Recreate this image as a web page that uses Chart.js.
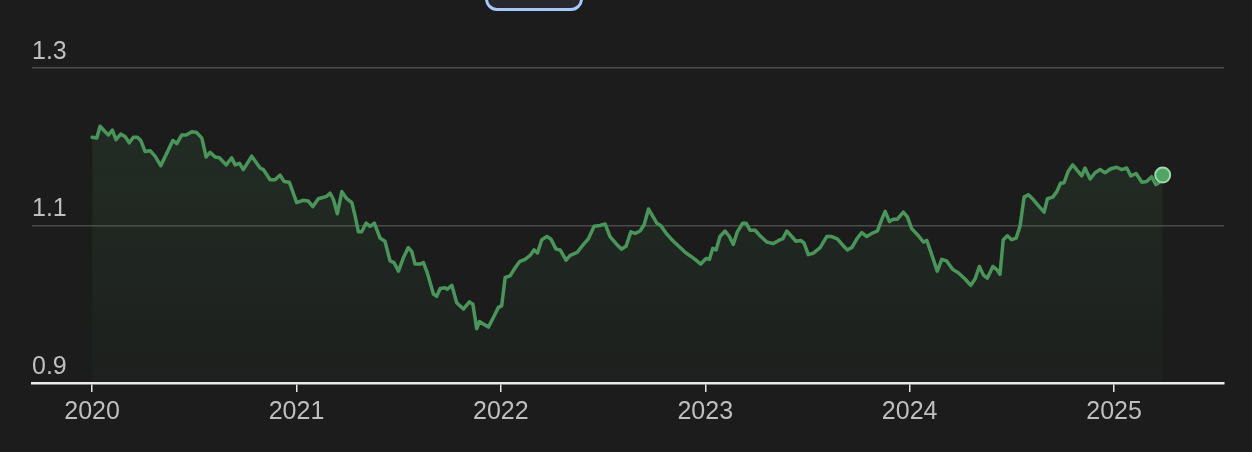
<!DOCTYPE html>
<html>
<head>
<meta charset="utf-8">
<script src="https://cdn.jsdelivr.net/npm/chart.js@4.4.1/dist/chart.umd.min.js"></script>
<style>
  html, body { margin: 0; padding: 0; background: #1c1c1c; overflow: hidden; }
  #wrap { position: relative; width: 1252px; height: 452px; }
  #rangeBtn {
    position: absolute; left: 485px; top: -30px; width: 92px; height: 35px;
    border: 3px solid #a8c7fa; border-radius: 12px; background: #28272e;
  }
</style>
</head>
<body>
<div id="wrap">
  <div id="rangeBtn"></div>
  <canvas id="myChart" width="1252" height="452"></canvas>
</div>
<script>
// values (fractional year, rate)
var years = [
  2020.000, 2020.023, 2020.039, 2020.064, 2020.080, 2020.099, 2020.117, 2020.140, 2020.161, 2020.182,
  2020.202, 2020.222, 2020.238, 2020.259, 2020.284, 2020.308, 2020.336, 2020.362, 2020.395, 2020.414,
  2020.439, 2020.460, 2020.488, 2020.512, 2020.537, 2020.558, 2020.577, 2020.602, 2020.623, 2020.656,
  2020.683, 2020.700, 2020.721, 2020.740, 2020.781, 2020.822, 2020.838, 2020.871, 2020.895, 2020.920,
  2020.939, 2020.965, 2021.001, 2021.031, 2021.058, 2021.080, 2021.107, 2021.148, 2021.164, 2021.181,
  2021.200, 2021.222, 2021.246, 2021.271, 2021.287, 2021.303, 2021.319, 2021.341, 2021.360, 2021.381,
  2021.409, 2021.433, 2021.458, 2021.477, 2021.499, 2021.523, 2021.547, 2021.564, 2021.580, 2021.605,
  2021.621, 2021.640, 2021.670, 2021.686, 2021.703, 2021.727, 2021.738, 2021.760, 2021.784, 2021.817,
  2021.846, 2021.863, 2021.882, 2021.895, 2021.914, 2021.939, 2021.967, 2021.988, 2022.004, 2022.021,
  2022.045, 2022.069, 2022.091, 2022.118, 2022.143, 2022.162, 2022.179, 2022.200, 2022.225, 2022.244,
  2022.270, 2022.290, 2022.319, 2022.339, 2022.374, 2022.404, 2022.428, 2022.456, 2022.485, 2022.510,
  2022.534, 2022.567, 2022.591, 2022.613, 2022.636, 2022.657, 2022.681, 2022.701, 2022.722, 2022.743,
  2022.763, 2022.782, 2022.812, 2022.844, 2022.877, 2022.906, 2022.929, 2022.950, 2022.978, 2023.004,
  2023.020, 2023.037, 2023.053, 2023.072, 2023.097, 2023.118, 2023.137, 2023.157, 2023.183, 2023.200,
  2023.219, 2023.244, 2023.268, 2023.301, 2023.333, 2023.366, 2023.379, 2023.399, 2023.423, 2023.444,
  2023.467, 2023.483, 2023.504, 2023.529, 2023.562, 2023.594, 2023.619, 2023.646, 2023.673, 2023.695,
  2023.717, 2023.744, 2023.766, 2023.790, 2023.815, 2023.842, 2023.864, 2023.880, 2023.901, 2023.920,
  2023.940, 2023.969, 2023.989, 2024.010, 2024.043, 2024.067, 2024.084, 2024.108, 2024.135, 2024.157,
  2024.181, 2024.211, 2024.238, 2024.271, 2024.299, 2024.320, 2024.341, 2024.361, 2024.380, 2024.407,
  2024.426, 2024.442, 2024.458, 2024.478, 2024.499, 2024.521, 2024.540, 2024.560, 2024.581, 2024.605,
  2024.634, 2024.658, 2024.674, 2024.700, 2024.720, 2024.739, 2024.755, 2024.776, 2024.798, 2024.817,
  2024.842, 2024.858, 2024.883, 2024.907, 2024.932, 2024.956, 2024.984, 2025.013, 2025.038, 2025.062,
  2025.082, 2025.108, 2025.136, 2025.160, 2025.184, 2025.205, 2025.222, 2025.238
];
var rates = [
  1.212, 1.211, 1.226, 1.219, 1.215, 1.221, 1.209, 1.216, 1.213, 1.205,
  1.212, 1.212, 1.208, 1.194, 1.195, 1.188, 1.176, 1.190, 1.208, 1.204,
  1.215, 1.215, 1.219, 1.218, 1.211, 1.187, 1.193, 1.187, 1.186, 1.177,
  1.186, 1.177, 1.179, 1.171, 1.188, 1.173, 1.171, 1.158, 1.158, 1.164,
  1.156, 1.155, 1.129, 1.132, 1.131, 1.124, 1.134, 1.137, 1.141, 1.133,
  1.115, 1.143, 1.134, 1.129, 1.112, 1.092, 1.092, 1.103, 1.099, 1.103,
  1.084, 1.080, 1.055, 1.053, 1.042, 1.059, 1.072, 1.067, 1.051, 1.051,
  1.053, 1.040, 1.013, 1.010, 1.020, 1.021, 1.019, 1.024, 1.002, 0.994,
  1.003, 1.000, 0.969, 0.978, 0.975, 0.971, 0.985, 0.996, 0.998, 1.034,
  1.036, 1.046, 1.054, 1.057, 1.062, 1.069, 1.065, 1.082, 1.086, 1.083,
  1.070, 1.069, 1.056, 1.062, 1.066, 1.076, 1.083, 1.099, 1.100, 1.102,
  1.086, 1.076, 1.070, 1.074, 1.092, 1.090, 1.093, 1.101, 1.121, 1.112,
  1.103, 1.100, 1.089, 1.080, 1.072, 1.065, 1.061, 1.057, 1.051, 1.058,
  1.057, 1.071, 1.069, 1.086, 1.093, 1.086, 1.076, 1.092, 1.103, 1.103,
  1.094, 1.094, 1.087, 1.079, 1.077, 1.082, 1.083, 1.093, 1.086, 1.080,
  1.081, 1.078, 1.063, 1.065, 1.072, 1.086, 1.086, 1.083, 1.075, 1.069,
  1.072, 1.084, 1.091, 1.086, 1.090, 1.093, 1.108, 1.118, 1.105, 1.108,
  1.108, 1.117, 1.111, 1.096, 1.087, 1.079, 1.081, 1.063, 1.042, 1.057,
  1.055, 1.044, 1.040, 1.032, 1.024, 1.032, 1.048, 1.037, 1.033, 1.048,
  1.044, 1.038, 1.082, 1.087, 1.082, 1.084, 1.099, 1.136, 1.139, 1.133,
  1.124, 1.117, 1.134, 1.136, 1.143, 1.154, 1.154, 1.169, 1.177, 1.171,
  1.163, 1.173, 1.159, 1.167, 1.171, 1.167, 1.172, 1.174, 1.171, 1.173,
  1.163, 1.166, 1.155, 1.156, 1.162, 1.152, 1.155, 1.164
];
var yearTicks = [2020, 2021, 2022, 2023, 2024, 2025];
var rateTicks = [0.9, 1.1, 1.3];

var lineColor = '#4a965a';
var textColor = '#bfbfbf';
var fontFamily = '"Liberation Sans", Arial, Helvetica, sans-serif';

var points = years.map(function (y, i) {
  return { x: y, y: rates[i] };
});
var lastIndex = points.length - 1;

var ctx = document.getElementById('myChart').getContext('2d');

var myChart = new Chart(ctx, {
  type: 'line',
  data: {
    datasets: [{
      data: points,
      borderColor: lineColor,
      borderWidth: 3.5,
      borderJoinStyle: 'round',
      borderCapStyle: 'round',
      tension: 0,
      fill: 'start',
      backgroundColor: function (context) {
        var area = context.chart.chartArea;
        if (!area) return 'rgba(0,0,0,0)';
        var g = context.chart.ctx.createLinearGradient(0, area.top + 50, 0, area.bottom);
        g.addColorStop(0, 'rgba(80, 160, 95, 0.13)');
        g.addColorStop(1, 'rgba(80, 160, 95, 0.03)');
        return g;
      },
      pointRadius: function (c) { return c.dataIndex === lastIndex ? 7.5 : 0; },
      pointHoverRadius: 0,
      pointBackgroundColor: '#52a465',
      pointBorderColor: '#9fd8ad',
      pointBorderWidth: 2
    }]
  },
  options: {
    responsive: false,
    animation: false,
    events: [],
    layout: {
      padding: { left: 32, right: 28, top: 68, bottom: 20 }
    },
    plugins: {
      legend: { display: false },
      tooltip: { enabled: false }
    },
    scales: {
      x: {
        type: 'linear',
        min: 2019.706,
        max: 2025.538,
        afterBuildTicks: function (scale) {
          scale.ticks = yearTicks.map(function (v) { return { value: v }; });
        },
        border: { display: true, color: '#ececec', width: 2.5 },
        grid: {
          drawOnChartArea: false,
          drawTicks: true,
          tickLength: 9,
          color: '#e6e6e6',
          lineWidth: 1.5
        },
        ticks: {
          color: textColor,
          padding: 5,
          maxRotation: 0,
          font: { family: fontFamily, size: 25 },
          callback: function (v) { return String(Math.round(v)); }
        }
      },
      y: {
        min: 0.9,
        max: 1.3,
        afterBuildTicks: function (scale) {
          scale.ticks = rateTicks.map(function (v) { return { value: v }; });
        },
        border: { display: false },
        grid: {
          drawTicks: false,
          color: '#4a4a4a',
          lineWidth: 1.5
        },
        ticks: {
          mirror: true,
          padding: 0,
          labelOffset: -16,
          color: textColor,
          font: { family: fontFamily, size: 25 },
          callback: function (v) { return v.toFixed(1); }
        }
      }
    }
  }
});
</script>
</body>
</html>
